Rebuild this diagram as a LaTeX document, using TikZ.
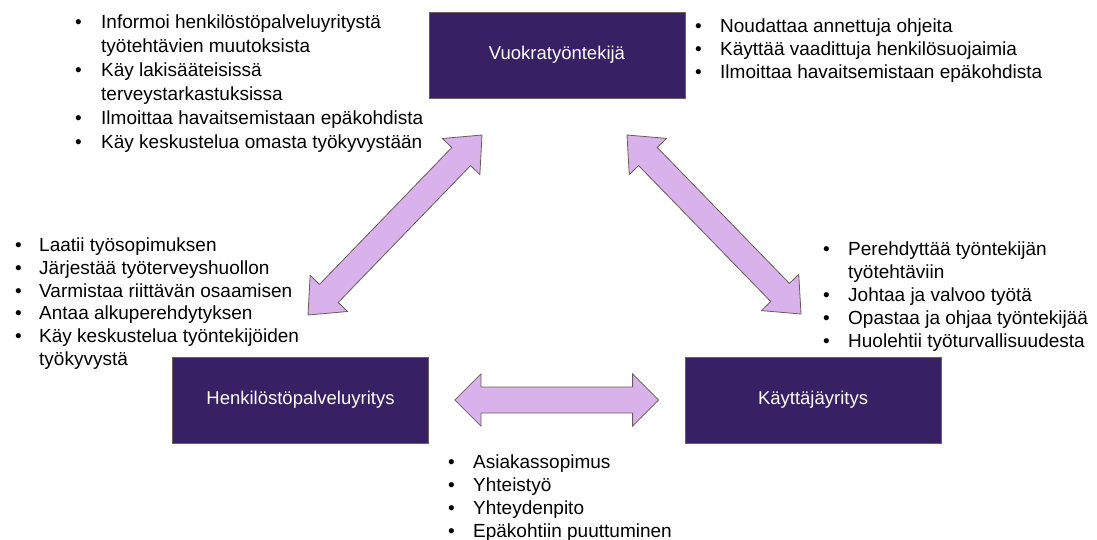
\documentclass[tikz,border=0pt]{standalone}
\usepackage{fontspec}
\setmainfont{Liberation Sans}
\usepackage{xcolor}
\usepackage{tikz}
\usetikzlibrary{calc, positioning}

\definecolor{boxfill}{HTML}{372064}
\definecolor{boxline}{HTML}{6E5E5E}
\definecolor{arrowfill}{HTML}{D9B2EC}
\definecolor{arrowline}{HTML}{6B5A5A}

\tikzset{
  party/.style={rectangle, draw=boxline, fill=boxfill, text=white, minimum width=256pt, minimum height=86pt, inner sep=0pt, line width=0.8pt, font=\fontsize{18.5}{22}\selectfont},
  duty/.style={anchor=base west, inner sep=0pt, font=\fontsize{19}{23}\selectfont},
  bigarrow/.style={fill=arrowfill, draw=arrowline, line width=0.8pt, line join=miter},
}

% block arrow with two heads: from, to, head length
\newcommand{\dblarrow}[3]{%
  \draw[bigarrow] (#1)
    -- ($(#1)!#3!(#2)!26pt!90:(#2)$) -- ($(#1)!#3!(#2)!13pt!90:(#2)$)
    -- ($(#2)!#3!(#1)!13pt!-90:(#1)$) -- ($(#2)!#3!(#1)!26pt!-90:(#1)$)
    -- (#2)
    -- ($(#2)!#3!(#1)!26pt!90:(#1)$) -- ($(#2)!#3!(#1)!13pt!90:(#1)$)
    -- ($(#1)!#3!(#2)!13pt!-90:(#2)$) -- ($(#1)!#3!(#2)!26pt!-90:(#2)$)
    -- cycle;}
\newcommand{\itm}{\textbullet &}

\begin{document}
\begin{tikzpicture}[x=1pt, y=-1pt]
  \useasboundingbox (0,0) rectangle (1097,540);

  % the three parties
  \node[party] (worker) at (557,55) {Vuokratyöntekijä};
  \node[party] (agency) at (300.5,400) {Henkilöstöpalveluyritys};
  \node[party] (user) at (813,400) {Käyttäjäyritys};

  % arrow ends
  \coordinate (agencytip) at (308,315);
  \coordinate (workerleft) at (482,135);
  \coordinate (workerright) at (627,135);
  \coordinate (usertip) at (801,314);
  \coordinate (agencyside) at ($(agency.east)+(26,0)$);
  \coordinate (userside) at ($(user.west)+(-26,0)$);

  \dblarrow{agencytip}{workerleft}{30pt}
  \dblarrow{workerright}{usertip}{30pt}
  \dblarrow{agencyside}{userside}{26pt}

  % duties
  \node[duty, font=\fontsize{19}{24}\selectfont] (workerduties) at (75,29) {%
    \begin{tabular}[t]{@{}p{26pt}@{}l@{}}
      \itm Informoi henkilöstöpalveluyritystä \\
      & työtehtävien muutoksista \\
      \itm Käy lakisääteisissä \\
      & terveystarkastuksissa \\
      \itm Ilmoittaa havaitsemistaan epäkohdista \\
      \itm Käy keskustelua omasta työkyvystään
    \end{tabular}};
  \node[duty] (workerrules) at (695,33) {%
    \begin{tabular}[t]{@{}p{25pt}@{}l@{}}
      \itm Noudattaa annettuja ohjeita \\
      \itm Käyttää vaadittuja henkilösuojaimia \\
      \itm Ilmoittaa havaitsemistaan epäkohdista
    \end{tabular}};
  \node[duty] (agencyduties) at (15,251) {%
    \begin{tabular}[t]{@{}p{24pt}@{}l@{}}
      \itm Laatii työsopimuksen \\
      \itm Järjestää työterveyshuollon \\
      \itm Varmistaa riittävän osaamisen \\
      \itm Antaa alkuperehdytyksen \\
      \itm Käy keskustelua työntekijöiden \\
      & työkyvystä
    \end{tabular}};
  \node[duty] (userduties) at (823,255) {%
    \begin{tabular}[t]{@{}p{25pt}@{}l@{}}
      \itm Perehdyttää työntekijän \\
      & työtehtäviin \\
      \itm Johtaa ja valvoo työtä \\
      \itm Opastaa ja ohjaa työntekijää \\
      \itm Huolehtii työturvallisuudesta
    \end{tabular}};
  \node[duty] (jointduties) at (448,468) {%
    \begin{tabular}[t]{@{}p{25pt}@{}l@{}}
      \itm Asiakassopimus \\
      \itm Yhteistyö \\
      \itm Yhteydenpito \\
      \itm Epäkohtiin puuttuminen
    \end{tabular}};
\end{tikzpicture}
\end{document}
